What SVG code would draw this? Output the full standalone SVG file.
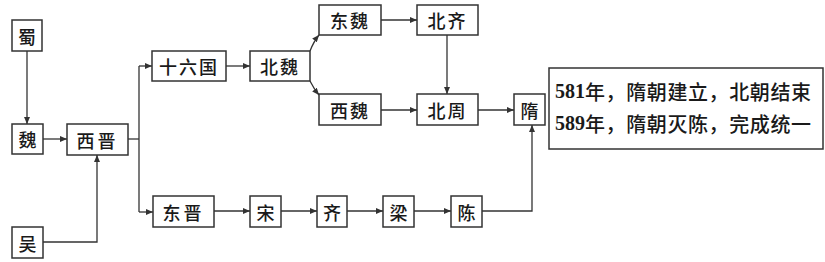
<svg xmlns="http://www.w3.org/2000/svg" width="825" height="262" viewBox="0 0 825 262">
<style>
.box{fill:#fff;stroke:#333;stroke-width:1.5}
.t{font-family:"Noto Sans CJK SC","Noto Sans CJK TC",sans-serif;font-size:18px;font-weight:500;fill:#1a1a1a;text-anchor:middle;dominant-baseline:central}
.c{fill:none;stroke:#333;stroke-width:1.3}
.info{font-family:"Noto Sans CJK SC","Noto Sans CJK TC",sans-serif;font-size:20px;font-weight:500;fill:#1a1a1a;dominant-baseline:central;letter-spacing:0.6px}
.info .n{font-family:"Liberation Serif",serif;font-weight:700;letter-spacing:0}
</style>
<defs>
<marker id="a" markerWidth="7" markerHeight="6" refX="7" refY="3" orient="auto" markerUnits="userSpaceOnUse">
<path d="M0,0 L7,3 L0,6 Z" fill="#333"/>
</marker>
</defs>
<rect width="825" height="262" fill="#fff"/>
<g id="connectors">
<line class="c" x1="27" y1="51" x2="27" y2="124" marker-end="url(#a)"/>
<line class="c" x1="43" y1="139" x2="67" y2="139" marker-end="url(#a)"/>
<polyline class="c" points="43,242 97,242 97,155" marker-end="url(#a)"/>
<line class="c" x1="128" y1="139" x2="139" y2="139"/>
<polyline class="c" points="139,66 139,212"/>
<line class="c" x1="139" y1="66" x2="152" y2="66" marker-end="url(#a)"/>
<line class="c" x1="139" y1="212" x2="153" y2="212" marker-end="url(#a)"/>
<line class="c" x1="226" y1="66" x2="250" y2="66" marker-end="url(#a)"/>
<path class="c" d="M310,51 Q314,41 319,35" marker-end="url(#a)"/>
<path class="c" d="M310,81 Q314,89 319,95" marker-end="url(#a)"/>
<line class="c" x1="381" y1="20" x2="417" y2="20" marker-end="url(#a)"/>
<line class="c" x1="447" y1="35" x2="447" y2="94" marker-end="url(#a)"/>
<line class="c" x1="381" y1="110" x2="417" y2="110" marker-end="url(#a)"/>
<line class="c" x1="478" y1="110" x2="514" y2="110" marker-end="url(#a)"/>
<line class="c" x1="214" y1="211" x2="250" y2="211" marker-end="url(#a)"/>
<line class="c" x1="281" y1="211" x2="317" y2="211" marker-end="url(#a)"/>
<line class="c" x1="347" y1="211" x2="383" y2="211" marker-end="url(#a)"/>
<line class="c" x1="414" y1="211" x2="451" y2="211" marker-end="url(#a)"/>
<polyline class="c" points="482,211 532,211 532,125" marker-end="url(#a)"/>
</g>
<g id="shu"><rect class="box" x="12" y="20" width="30" height="31"/><text class="t" x="27" y="35.5">蜀</text></g>
<g id="wei"><rect class="box" x="12" y="124" width="31" height="30"/><text class="t" x="27.5" y="139">魏</text></g>
<g id="wu"><rect class="box" x="12" y="227" width="31" height="31"/><text class="t" x="27.5" y="242.5">吴</text></g>
<g id="xijin"><rect class="box" x="67" y="124" width="61" height="31"/><text class="t" x="97.5" y="139.5" letter-spacing="3">西晋</text></g>
<g id="shiliuguo"><rect class="box" x="152" y="51" width="74" height="30"/><text class="t" x="189" y="66" letter-spacing="2">十六国</text></g>
<g id="beiwei"><rect class="box" x="250" y="51" width="60" height="30"/><text class="t" x="280" y="66" letter-spacing="2">北魏</text></g>
<g id="dongwei"><rect class="box" x="319" y="5" width="62" height="30"/><text class="t" x="350" y="20" letter-spacing="2">东魏</text></g>
<g id="beiqi"><rect class="box" x="417" y="5" width="61" height="30"/><text class="t" x="447.5" y="20" letter-spacing="2">北齐</text></g>
<g id="xiwei"><rect class="box" x="319" y="94" width="62" height="31"/><text class="t" x="350" y="109.5" letter-spacing="2">西魏</text></g>
<g id="beizhou"><rect class="box" x="417" y="94" width="61" height="31"/><text class="t" x="447.5" y="109.5" letter-spacing="2">北周</text></g>
<g id="sui"><rect class="box" x="514" y="94" width="31" height="31"/><text class="t" x="529.5" y="109.5">隋</text></g>
<g id="dongjin"><rect class="box" x="153" y="196" width="61" height="31"/><text class="t" x="183.5" y="211.5" letter-spacing="3">东晋</text></g>
<g id="song"><rect class="box" x="250" y="196" width="31" height="31"/><text class="t" x="265.5" y="211.5">宋</text></g>
<g id="qi"><rect class="box" x="317" y="196" width="30" height="31"/><text class="t" x="332" y="211.5">齐</text></g>
<g id="liang"><rect class="box" x="383" y="196" width="31" height="31"/><text class="t" x="398.5" y="211.5">梁</text></g>
<g id="chen"><rect class="box" x="451" y="196" width="31" height="31"/><text class="t" x="466.5" y="211.5">陈</text></g>
<g id="info">
<rect class="box" x="549" y="68" width="274" height="81"/>
<text class="info" x="555" y="91"><tspan class="n">581</tspan>年，隋朝建立，北朝结束</text>
<text class="info" x="555" y="123"><tspan class="n">589</tspan>年，隋朝灭陈，完成统一</text>
</g>
</svg>
